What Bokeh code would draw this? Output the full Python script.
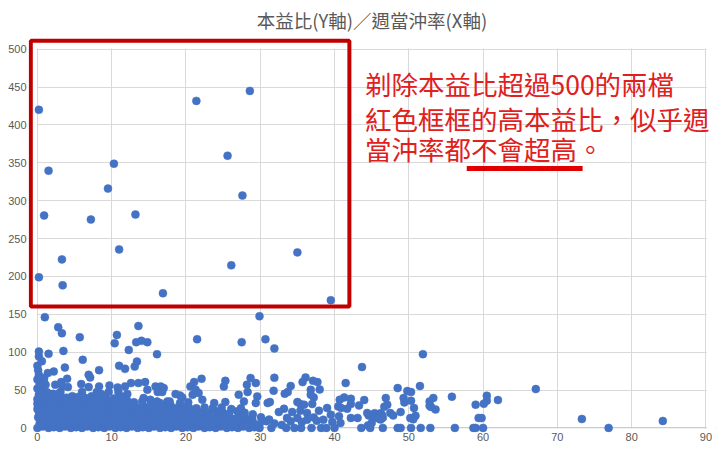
from bokeh.plotting import figure
from bokeh.models import Range1d, SingleIntervalTicker, BoxAnnotation, ColumnDataSource, Span, Label
from bokeh.embed import file_html
from bokeh.resources import INLINE

TITLE = "本益比(Y軸)／週當沖率(X軸)"
NOTE_LINES = ["剃除本益比超過500的兩檔", "紅色框框的高本益比，似乎週", "當沖率都不會超高。"]
X_MAX, Y_MAX = 90, 500

# --- high P/E outliers (inside the red frame) ---
box_x = [0.2, 21.4, 28.6, 25.6, 1.5, 10.3, 9.5, 27.6, 0.9, 7.2, 13.2, 11.0, 3.3, 35.0, 26.1, 0.2, 3.4, 16.9, 39.5]
box_y = [419.9, 431.7, 444.9, 359.3, 339.6, 348.8, 315.9, 306.7, 280.4, 275.1, 281.7, 235.7, 222.5, 231.7, 214.6, 198.8, 188.3, 177.8, 168.6]

# --- scattered points between ~25 and 150 ---
mid_x = [1.0, 29.9, 2.8, 3.3, 5.7, 10.7, 10.4, 13.6, 13.3, 14.0, 14.8, 0.2, 0.2, 1.5, 3.5, 6.1, 12.3,
         11.0, 11.8, 13.1, 13.4, 3.7, 8.3, 1.4, 6.9, 7.1, 2.4, 3.2, 4.0, 3.4, 4.1, 0.85, 1.1, 0.6,
         5.9, 6.9, 8.3, 9.7, 10.8, 11.8, 12.6, 13.6, 14.5, 6.0, 8.0, 8.6, 9.6, 10.9, 12.1, 11.2,
         1.6, 3.1, 4.2, 16.1, 21.5, 27.5, 22.1, 21.1, 20.6, 21.3, 21.7, 22.2, 20.9, 25.3, 25.1,
         28.7, 29.4, 28.2, 28.3, 27.1, 14.8, 15.9, 16.6, 17.0, 16.2, 16.8, 18.6, 19.2, 19.5, 23.8,
         25.3, 27.8, 29.6, 14.3, 15.2, 16.1, 17.5, 17.9, 30.7, 31.9, 43.7, 41.5, 31.9, 35.7, 36.1,
         37.1, 37.7, 36.8, 38.0, 34.1, 31.8, 33.3, 33.7, 36.8, 37.2, 37.0, 29.4, 31.0, 31.3, 35.0,
         35.4, 35.9, 40.7, 41.3, 42.2, 42.2, 43.3, 44.0, 40.5, 40.9, 41.7, 33.2, 32.5, 34.3, 35.4,
         36.3, 37.9, 39.0, 39.5, 40.6, 42.2, 43.1, 44.4, 44.6, 33.6, 34.1, 35.0, 35.6, 36.3, 37.2,
         37.6, 38.5, 39.7, 40.8, 51.9, 48.5, 51.5, 49.8, 50.3, 55.8, 59.0, 46.9, 49.3, 49.4, 50.3,
         53.3, 52.8, 53.0, 53.6, 52.8, 47.1, 46.7, 50.7, 48.9, 47.5, 47.9, 44.9, 45.4, 45.8, 46.2,
         46.4, 46.5, 46.2, 45.2, 45.9, 50.2, 50.9, 50.6, 45.0, 44.5, 59.4, 67.1, 73.3, 84.2, 62.0,
         60.5, 60.5, 60.1, 59.8]
mid_y = [146.2, 147.5, 132.9, 125.0, 119.7, 122.8, 111.8, 134.6, 113.2, 115.0, 113.2, 100.8, 94.2, 97.8, 101.7, 89.9, 103.0,
         82.0, 78.0, 81.0, 87.6, 79.7, 76.3, 72.4, 70.1, 66.6, 57.0, 60.5, 64.9, 54.7, 53.9, 63.6, 57.0, 52.6,
         57.9, 53.9, 54.7, 56.0, 53.4, 54.7, 59.2, 59.2, 60.5, 47.4, 47.4, 44.7, 47.4, 47.4, 44.7, 41.6,
         44.7, 47.4, 39.5, 97.4, 117.1, 113.2, 64.9, 60.5, 54.7, 50.4, 46.0, 37.2, 43.8, 62.2, 54.7,
         65.8, 59.2, 57.0, 47.4, 43.8, 50.4, 54.7, 54.7, 52.6, 47.4, 47.4, 44.7, 42.9, 40.3, 32.9,
         34.2, 35.0, 41.6, 39.5, 37.2, 35.0, 35.0, 30.7, 117.0, 105.0, 80.3, 59.2, 66.2, 60.5, 66.6,
         62.2, 60.5, 50.4, 50.8, 55.3, 49.1, 45.1, 47.4, 43.8, 40.3, 31.6, 32.9, 32.9, 34.2, 34.2,
         31.6, 30.7, 37.2, 40.3, 38.6, 31.6, 29.7, 36.8, 28.4, 26.3, 25.4, 25.4, 21.0, 21.0, 22.8,
         19.7, 22.8, 26.3, 17.5, 15.3, 13.2, 13.2, 19.7, 16.6, 13.2, 8.7, 13.2, 7.9, 10.9, 13.9,
         9.6, 10.9, 7.9, 6.6, 97.4, 52.6, 55.3, 48.7, 47.4, 41.2, 30.7, 39.5, 39.5, 33.7, 35.9,
         39.5, 35.0, 27.6, 24.5, 29.3, 30.7, 28.0, 26.3, 21.0, 19.7, 16.6, 17.0, 19.5, 16.5, 19.5,
         17.0, 13.5, 11.0, 13.5, 12.5, 13.0, 16.0, 11.4, 6.6, 3.4, 13.2, 51.3, 11.8, 9.2, 36.8,
         42.5, 36.0, 32.0, 13.0]

# --- dense cluster of low P/E values ---
dense_x = [0.0, 0.7, 1.5, 2.2, 3.0, 3.7, 4.5, 5.2, 6.0, 6.7, 7.5, 8.2, 9.0, 9.7, 10.5, 11.2, 12.0, 12.7, 13.5, 14.2,
           15.0, 15.7, 16.5, 17.2, 18.0, 18.7, 19.5, 20.2, 21.0, 21.7, 22.5, 23.2, 24.0, 24.7, 25.5, 26.2, 27.0, 27.7, 28.5, 29.2,
           29.9, 31.5, 33.5, 34.6, 35.5, 36.9, 38.2, 38.9, 40.0, 43.6, 44.8, 46.5, 48.5, 48.9, 50.3, 51.6, 52.9, 56.2, 58.7, 59.0, 60.0, 76.9,
           0.3, 1.1, 1.9, 2.6, 3.4, 4.2, 5.0, 5.7, 6.5, 7.3, 8.1, 8.8, 9.6, 10.4, 11.2, 11.9, 12.7, 13.5, 14.3, 15.0, 15.8,
           16.6, 17.4, 18.1, 18.9, 19.7, 20.5, 21.2, 22.0, 22.8, 23.6, 24.3, 25.1, 25.9, 26.7, 27.4, 28.2, 29.0, 29.9, 30.8, 31.9, 32.9,
           0.1, 0.9, 1.6, 2.4, 3.2, 3.9, 4.7, 5.5, 6.2, 7.0, 7.8, 8.5, 9.3, 10.1, 10.8, 11.6, 12.4, 13.1, 13.9, 14.7, 15.4,
           16.2, 17.0, 17.7, 18.5, 19.3, 20.0, 20.8, 21.6, 22.3, 23.1, 23.9, 24.6, 25.4, 26.3, 27.1, 28.0, 28.9, 30.1, 31.2,
           0.4, 1.2, 2.0, 2.7, 3.5, 4.3, 5.1, 5.8, 6.6, 7.4, 8.2, 8.9, 9.7, 10.5, 11.3, 12.0, 12.8, 13.6, 14.4, 15.1, 15.9,
           16.7, 17.5, 18.2, 19.0, 19.8, 20.6, 21.4, 22.3, 23.1, 24.0, 24.9, 25.8, 26.9, 27.9, 29.0,
           0.2, 1.0, 1.8, 2.5, 3.3, 4.1, 4.9, 5.6, 6.4, 7.2, 8.0, 8.7, 9.5, 10.3, 11.1, 11.8, 12.6, 13.4, 14.3, 15.2, 16.0,
           16.9, 17.8, 18.6, 19.5, 20.4, 21.4, 22.5, 23.6, 24.8, 26.1, 27.4,
           0.0, 0.8, 1.6, 2.4, 3.2, 4.0, 4.8, 5.6, 6.4, 7.2, 8.0, 8.8, 9.6, 10.4, 11.2, 12.1, 13.0, 14.1, 15.3, 16.5, 17.8, 19.2, 20.3,
           0.0, 0.7, 1.5, 2.3, 3.1, 3.9, 4.7, 5.5, 6.4, 7.3, 8.2, 9.2, 10.3, 11.5,
           0.0, 0.6, 1.3, 2.1, 3.0, 0.2, 0.0, 0.3, 0.0, 0.2, 0.1, 0.0, 0.6, 0.5, 0.9, 2.2]
dense_y = [0, 2, 0, 1, 0, 2, 0, 1, 0, 2, 0, 1, 0, 2, 0, 1, 0, 2, 0, 1,
           0, 2, 0, 1, 0, 2, 0, 1, 0, 2, 0, 1, 0, 2, 0, 1, 0, 2, 0, 1,
           0, 0, 0, 0, 0, 0, 0, 0, 0, 0, 0, 0, 0, 0, 0, 0, 0, 0, 0, 0, 0, 0,
           6, 8, 7, 9, 6, 8, 7, 9, 6, 8, 7, 9, 6, 8, 7, 9, 6, 8, 7, 9, 6,
           8, 7, 9, 6, 8, 7, 9, 6, 8, 7, 9, 6, 8, 7, 9, 6, 8, 5, 9, 6, 4,
           14, 13, 15, 14, 13, 15, 14, 13, 15, 14, 13, 15, 14, 13, 15, 14, 13, 15, 14, 13, 15,
           14, 13, 15, 14, 13, 15, 14, 13, 15, 14, 13, 15, 14, 12, 15, 13, 12, 14, 11, 15,
           21, 20, 22, 21, 20, 22, 21, 20, 22, 21, 20, 22, 21, 20, 22, 21, 20, 22, 21, 20, 22,
           21, 20, 22, 21, 20, 22, 21, 20, 22, 21, 19, 22, 20, 18, 21,
           28, 27, 29, 28, 27, 29, 28, 27, 29, 28, 27, 29, 28, 27, 29, 28, 27, 29, 28, 26, 29,
           27, 26, 28, 27, 26, 27, 26, 27, 25, 26, 25,
           35, 34, 36, 35, 34, 36, 35, 34, 36, 35, 34, 36, 35, 34, 36, 34, 35, 34, 33, 35, 33, 34, 32,
           41, 40, 42, 41, 40, 42, 41, 40, 42, 41, 40, 39, 41, 38,
           46, 47, 45, 46, 44, 52, 58, 64, 70, 76, 82, 88, 48, 66, 74.5, 59]

# annotation geometry (data units)
frame_left, frame_right, frame_bottom, frame_top = -0.89, 42.0, 160.3, 511.0
note_x = 44.1
note_y = [455.3, 407.8, 368.2]
underline_x0, underline_x1, underline_y = 57.8, 73.4, 342.4

all_x = box_x + mid_x + dense_x
all_y = box_y + mid_y + dense_y

p = figure(width=720, height=446, x_range=Range1d(-1.2, 91.29), y_range=Range1d(-6, 518),
           output_backend="svg", toolbar_location=None,
           min_border_left=28, min_border_right=5, min_border_top=35, min_border_bottom=14,
           title=TITLE)
p.outline_line_color = None
p.background_fill_color = "white"
p.border_fill_color = "white"

p.title.align = "center"
p.title.text_font = "Noto Sans CJK TC"
p.title.text_font_size = "18.5px"
p.title.text_font_style = "normal"
p.title.text_color = "#595959"
p.title.standoff = 6
p.title.offset = -4

p.xaxis.ticker = SingleIntervalTicker(interval=10)
p.yaxis.ticker = SingleIntervalTicker(interval=50)
for ax in (p.xaxis, p.yaxis):
    ax.axis_line_color = None
    ax.major_tick_line_color = None
    ax.minor_tick_line_color = None
    ax.major_tick_out = 0
    ax.major_tick_in = 0
    ax.minor_tick_out = 0
    ax.minor_tick_in = 0
    ax.major_label_text_font = "Liberation Sans"
    ax.major_label_text_font_size = "11px"
    ax.major_label_text_color = "#595959"
p.xaxis.major_label_standoff = 0
p.yaxis.major_label_standoff = 2

p.xgrid.grid_line_color = "#D9D9D9"
p.ygrid.grid_line_color = "#D9D9D9"
p.add_layout(Span(location=0, dimension="width", line_color="#BFBFBF", line_width=1, level="underlay"))

# white masks so the grid stops at the 0..90 / 0..500 plot area
for kw in (dict(left=X_MAX + 0.1), dict(right=-0.07), dict(bottom=Y_MAX + 0.7), dict(top=-0.7)):
    p.add_layout(BoxAnnotation(fill_color="white", fill_alpha=1.0, line_alpha=0, level="underlay", **kw))

src = ColumnDataSource(dict(x=all_x, y=all_y))
p.scatter("x", "y", source=src, size=8, fill_color="#4472C4", line_color="#4472C4", line_width=0.5)

p.add_layout(BoxAnnotation(left=frame_left, right=frame_right, bottom=frame_bottom, top=frame_top,
                           fill_alpha=0, line_color="#C00000", line_alpha=1.0, line_width=4))

for line, ly in zip(NOTE_LINES, note_y):
    p.add_layout(Label(x=note_x, y=ly, text=line, text_font="Noto Sans CJK TC",
                       text_font_size="26.5px", text_color="#E0201C",
                       text_baseline="middle", text_align="left"))
p.segment(x0=[underline_x0], y0=[underline_y], x1=[underline_x1], y1=[underline_y],
          line_color="#E00000", line_width=5)

open("out.html", "w").write(file_html(p, INLINE))
